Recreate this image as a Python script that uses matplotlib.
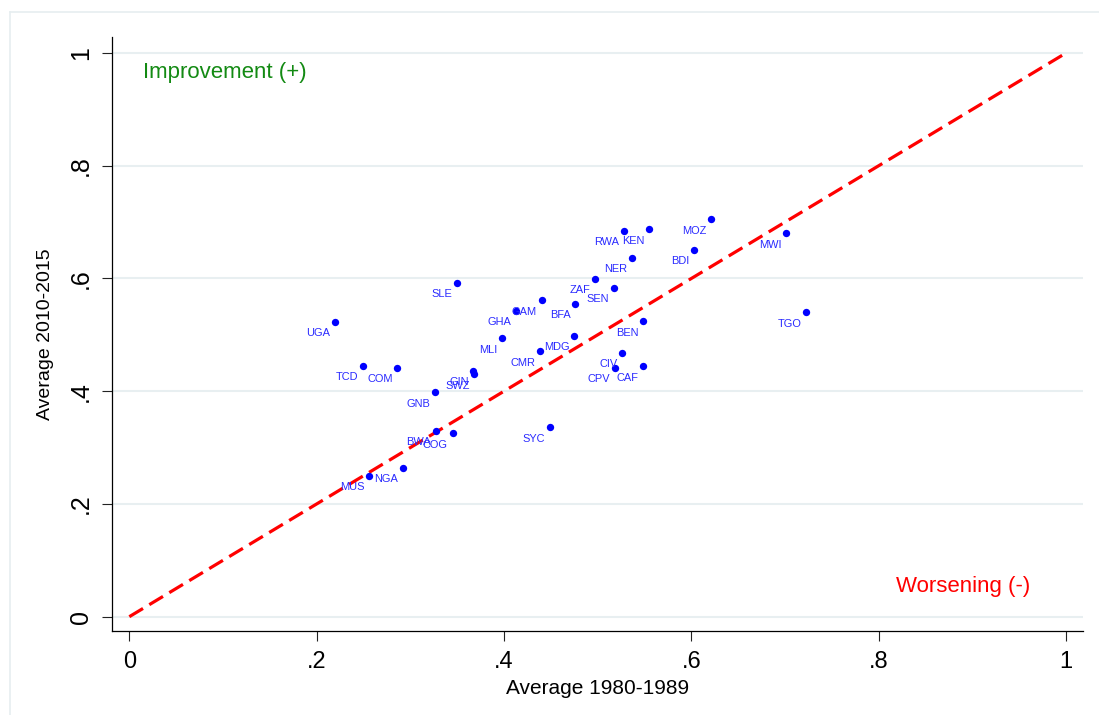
import matplotlib
matplotlib.use("Agg")
import matplotlib.pyplot as plt
from matplotlib.lines import Line2D

plt.rcParams["font.family"] = ["Liberation Sans", "DejaVu Sans"]

# country codes and averages
countries = ["SLE", "UGA", "GAM", "GHA", "MLI", "CMR", "TCD", "COM", "GIN", "SWZ",
             "GNB", "BWA", "COG", "SYC", "NGA", "MUS", "MOZ", "RWA", "KEN", "BDI",
             "NER", "ZAF", "SEN", "BFA", "BEN", "MDG", "CIV", "CPV", "CAF", "MWI", "TGO"]
avg_1980_1989 = [0.350, 0.219, 0.440, 0.413, 0.398, 0.438, 0.249, 0.286, 0.367, 0.368,
                 0.326, 0.327, 0.345, 0.449, 0.292, 0.256, 0.621, 0.528, 0.555, 0.603,
                 0.536, 0.497, 0.517, 0.476, 0.548, 0.475, 0.526, 0.518, 0.548, 0.701, 0.722]
avg_2010_2015 = [0.592, 0.523, 0.561, 0.542, 0.494, 0.471, 0.445, 0.441, 0.436, 0.430,
                 0.398, 0.330, 0.325, 0.336, 0.264, 0.250, 0.705, 0.684, 0.687, 0.651,
                 0.637, 0.599, 0.583, 0.555, 0.524, 0.498, 0.468, 0.441, 0.444, 0.680, 0.540]
diag = [0, 1]
tick_vals = [0, 0.2, 0.4, 0.6, 0.8, 1]
tick_labels = ["0", ".2", ".4", ".6", ".8", "1"]

fig = plt.figure(figsize=(10.99, 7.15), dpi=100)
ax = fig.add_axes([0.1019, 0.117, 0.8835, 0.831])

# outer light frame (Stata style)
fig.add_artist(Line2D([10 / 1099, 10 / 1099], [0, 1 - 12 / 715], transform=fig.transFigure,
                      color="#e6eef0", lw=1.2))
fig.add_artist(Line2D([10 / 1099, 1], [1 - 12 / 715, 1 - 12 / 715], transform=fig.transFigure,
                      color="#e6eef0", lw=1.2))

ax.plot(diag, diag, color="#ff0000", lw=2.3, dashes=(5.0, 2.3), zorder=2)
ax.scatter(avg_1980_1989, avg_2010_2015, s=28, color="#0000ff", zorder=3, linewidths=0)
for name, xv, yv in zip(countries, avg_1980_1989, avg_2010_2015):
    ax.annotate(name, (xv, yv), xytext=(-3.3, -8.2), textcoords="offset points",
                ha="right", va="center", fontsize=7.9, color="#2a2aff", zorder=4)

ax.text(0.0146, 0.966, "Improvement (+)", color="#138a13", fontsize=16,
        ha="left", va="center")
ax.text(0.818, 0.054, "Worsening (-)", color="#ff0000", fontsize=16,
        ha="left", va="center")

ax.set_xlim(-0.0185, 1.0178)
ax.set_ylim(-0.026, 1.0278)
ax.set_xticks(tick_vals)
ax.set_xticklabels(tick_labels, fontsize=17)
ax.set_yticks(tick_vals)
ax.set_yticklabels(tick_labels, fontsize=18, rotation=90, va="center")
ax.tick_params(axis="both", direction="out", length=7.5, width=0.8, color="#222222")
ax.tick_params(axis="x", pad=7)
ax.tick_params(axis="y", pad=6)

ax.yaxis.grid(True, color="#e8eff1", lw=1.5)
ax.set_axisbelow(True)
for side in ["top", "right"]:
    ax.spines[side].set_visible(False)
for side in ["left", "bottom"]:
    ax.spines[side].set_linewidth(0.9)

ax.set_xlabel("Average 1980-1989", fontsize=15)
ax.set_ylabel("Average 2010-2015", fontsize=14)
ax.xaxis.set_label_coords(0.5, -0.080)
ax.xaxis.label.set_va("top")
ax.yaxis.set_label_coords(-0.0594, 0.5)

fig.savefig("out.png", dpi=100)
